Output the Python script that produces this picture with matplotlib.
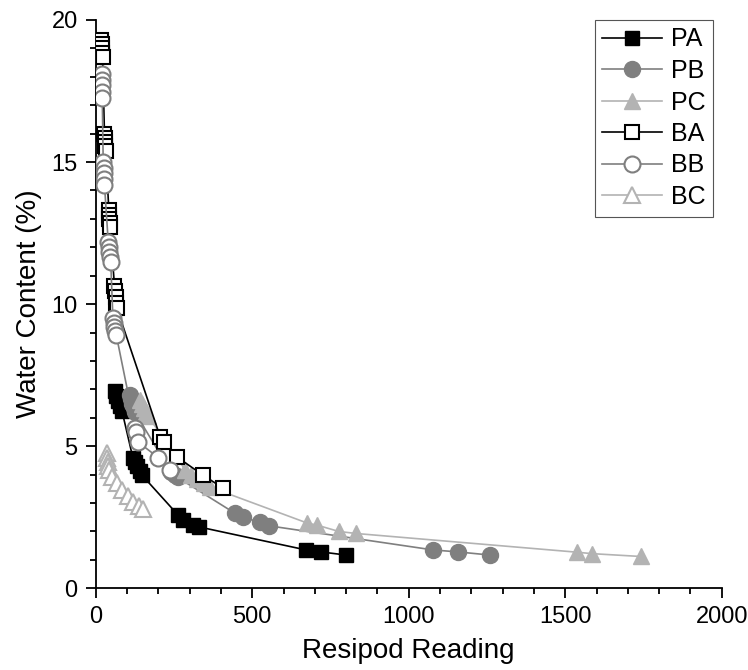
import matplotlib
matplotlib.use("Agg")
import matplotlib.pyplot as plt
from matplotlib.ticker import MultipleLocator

plt.rcParams['font.family'] = ['Liberation Sans', 'DejaVu Sans']

# ---- data ----
pa_x = [62, 66, 71, 77, 84, 119, 125, 132, 140, 148, 263, 279, 311, 330, 672, 720, 800]
pa_y = [6.95, 6.75, 6.6, 6.4, 6.24, 4.58, 4.45, 4.3, 4.12, 3.98, 2.58, 2.4, 2.23, 2.16, 1.35, 1.28, 1.17]

pb_x = [109, 113, 117, 121, 125, 240, 252, 262, 445, 471, 525, 553, 1078, 1158, 1260]
pb_y = [6.8, 6.65, 6.5, 6.35, 6.2, 4.1, 3.97, 3.9, 2.64, 2.5, 2.32, 2.2, 1.35, 1.28, 1.17]

pc_x = [142, 148, 154, 160, 166, 286, 305, 325, 345, 366, 675, 708, 777, 831, 1538, 1585, 1741]
pc_y = [6.63, 6.48, 6.33, 6.2, 6.08, 4.17, 4.0, 3.85, 3.7, 3.56, 2.3, 2.22, 2.0, 1.93, 1.27, 1.22, 1.12]

ba_x = [18, 19, 20, 21, 22, 28, 29, 30, 31, 32, 42, 43, 44, 45, 46, 60, 62, 64, 66, 68, 206, 218, 260, 343, 408]
ba_y = [19.3, 19.15, 19.0, 18.85, 18.7, 16.0, 15.85, 15.7, 15.55, 15.4, 13.3, 13.15, 13.0, 12.85, 12.7,
        10.65, 10.45, 10.25, 10.05, 9.85, 5.33, 5.15, 4.62, 3.98, 3.52]

bb_x = [19, 19, 20, 20, 21, 24, 25, 26, 27, 28, 40, 42, 44, 46, 48, 55, 58, 60, 63, 66, 126, 130, 135, 200, 237]
bb_y = [18.1, 17.9, 17.7, 17.45, 17.25, 15.0, 14.8, 14.6, 14.4, 14.2, 12.2, 12.0, 11.85, 11.65, 11.5,
        9.5, 9.35, 9.2, 9.05, 8.9, 5.64, 5.5, 5.15, 4.6, 4.18]

bc_x = [35, 36, 38, 40, 43, 52, 68, 85, 102, 120, 138, 152]
bc_y = [4.75, 4.6, 4.45, 4.3, 4.15, 3.9, 3.7, 3.45, 3.25, 3.05, 2.9, 2.8]

labels = ["PA", "PB", "PC", "BA", "BB", "BC"]

x_ticks = [0, 500, 1000, 1500, 2000]
y_ticks = [0, 5, 10, 15, 20]

# ---- figure ----
fig = plt.figure(figsize=(7.48, 6.70), dpi=100)
ax = fig.add_axes([95.7 / 748, 1 - 588.3 / 670, (721.7 - 95.7) / 748, (588.3 - 20) / 670])

black = "#000000"
gray = "#7f7f7f"
lgray = "#b3b3b3"
lw = 1.2

ax.plot(pa_x, pa_y, color=black, lw=lw, marker='s', ms=10, mfc=black, mec=black, label=labels[0], zorder=3)
ax.plot(pb_x, pb_y, color=gray, lw=lw, marker='o', ms=11.5, mfc=gray, mec=gray, label=labels[1], zorder=3)
ax.plot(pc_x, pc_y, color=lgray, lw=lw, marker='^', ms=12, mfc=lgray, mec=lgray, label=labels[2], zorder=3)
ax.plot(ba_x, ba_y, color=black, lw=lw, marker='s', ms=10, mfc='white', mec=black, mew=1.5, label=labels[3], zorder=4)
ax.plot(bb_x, bb_y, color=gray, lw=lw, marker='o', ms=11.5, mfc='white', mec=gray, mew=1.5, label=labels[4], zorder=4)
ax.plot(bc_x, bc_y, color=lgray, lw=lw, marker='^', ms=12, mfc='white', mec=lgray, mew=1.5, label=labels[5], zorder=4)

ax.set_xlim(0, 2000)
ax.set_ylim(0, 20)
ax.set_xticks(x_ticks)
ax.set_yticks(y_ticks)
ax.xaxis.set_minor_locator(MultipleLocator(100))
ax.yaxis.set_minor_locator(MultipleLocator(1))

for s in ['top', 'right']:
    ax.spines[s].set_visible(False)
for s in ['left', 'bottom']:
    ax.spines[s].set_linewidth(1.3)
ax.tick_params(which='major', direction='out', length=7, width=1.3, labelsize=17, pad=6)
ax.tick_params(which='minor', direction='out', length=4, width=1.3)

ax.set_xlabel("Resipod Reading", fontsize=20, labelpad=7)
ax.set_ylabel("Water Content (%)", fontsize=20, labelpad=7)

leg = ax.legend(loc='upper right', bbox_to_anchor=(713 / 748, 1 - 20 / 670),
                bbox_transform=fig.transFigure, borderaxespad=0, fontsize=18,
                handlelength=2.4, handletextpad=0.35, labelspacing=0.3,
                fancybox=False, framealpha=1, edgecolor='#555555', borderpad=0.3)
leg.get_frame().set_linewidth(0.8)

fig.savefig("out.png", dpi=100)
